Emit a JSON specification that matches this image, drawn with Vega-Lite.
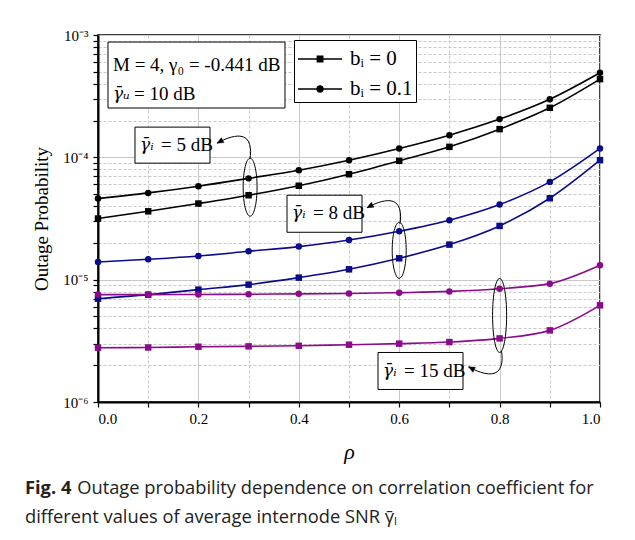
{
  "$schema": "https://vega.github.io/schema/vega-lite/v6.json",
  "width": 502,
  "height": 367,
  "autosize": {"type": "none"},
  "padding": {"left": 98, "top": 35, "right": 35, "bottom": 138},
  "background": "white",
  "config": {
    "font": "Liberation Serif",
    "view": {"stroke": "black", "strokeWidth": 1.5},
    "axis": {
      "domainColor": "black",
      "domainWidth": 2,
      "tickColor": "black",
      "tickWidth": 1.2,
      "tickSize": 5,
      "labelColor": "black",
      "labelFont": "Liberation Serif",
      "labelFontSize": 15,
      "titleFont": "Liberation Serif",
      "titleColor": "black",
      "titleFontWeight": "normal",
      "gridColor": "#c8c8c8",
      "gridWidth": 1
    }
  },
  "title": {
    "text": "Fig. 4",
    "subtitle": [
      "\u200b\u00a0\u00a0\u00a0\u00a0\u00a0\u00a0\u00a0\u00a0\u00a0\u00a0\u00a0Outage probability dependence on correlation coefficient for",
      "different values of average internode SNR γ̄ₗ"
    ],
    "orient": "bottom",
    "anchor": "start",
    "frame": "group",
    "dx": -73,
    "offset": 18,
    "font": "Open Sans",
    "fontSize": 18.3,
    "fontWeight": "bold",
    "color": "#222222",
    "subtitleFont": "Open Sans",
    "subtitleFontSize": 18.3,
    "subtitleColor": "#222222",
    "subtitlePadding": -18.3,
    "subtitleLineHeight": 29
  },
  "datasets": {
    "main": [
      {"rho": 0.0, "p": 4.60e-5, "snr": "5", "bi": "0.1"},
      {"rho": 0.1, "p": 5.12e-5, "snr": "5", "bi": "0.1"},
      {"rho": 0.2, "p": 5.81e-5, "snr": "5", "bi": "0.1"},
      {"rho": 0.3, "p": 6.73e-5, "snr": "5", "bi": "0.1"},
      {"rho": 0.4, "p": 7.85e-5, "snr": "5", "bi": "0.1"},
      {"rho": 0.5, "p": 9.48e-5, "snr": "5", "bi": "0.1"},
      {"rho": 0.6, "p": 1.182e-4, "snr": "5", "bi": "0.1"},
      {"rho": 0.7, "p": 1.518e-4, "snr": "5", "bi": "0.1"},
      {"rho": 0.8, "p": 2.053e-4, "snr": "5", "bi": "0.1"},
      {"rho": 0.9, "p": 2.98e-4, "snr": "5", "bi": "0.1"},
      {"rho": 1.0, "p": 4.91e-4, "snr": "5", "bi": "0.1"},
      {"rho": 0.0, "p": 3.16e-5, "snr": "5", "bi": "0"},
      {"rho": 0.1, "p": 3.62e-5, "snr": "5", "bi": "0"},
      {"rho": 0.2, "p": 4.19e-5, "snr": "5", "bi": "0"},
      {"rho": 0.3, "p": 4.90e-5, "snr": "5", "bi": "0"},
      {"rho": 0.4, "p": 5.86e-5, "snr": "5", "bi": "0"},
      {"rho": 0.5, "p": 7.28e-5, "snr": "5", "bi": "0"},
      {"rho": 0.6, "p": 9.36e-5, "snr": "5", "bi": "0"},
      {"rho": 0.7, "p": 1.218e-4, "snr": "5", "bi": "0"},
      {"rho": 0.8, "p": 1.70e-4, "snr": "5", "bi": "0"},
      {"rho": 0.9, "p": 2.54e-4, "snr": "5", "bi": "0"},
      {"rho": 1.0, "p": 4.36e-4, "snr": "5", "bi": "0"},
      {"rho": 0.0, "p": 1.394e-5, "snr": "8", "bi": "0.1"},
      {"rho": 0.1, "p": 1.467e-5, "snr": "8", "bi": "0.1"},
      {"rho": 0.2, "p": 1.561e-5, "snr": "8", "bi": "0.1"},
      {"rho": 0.3, "p": 1.706e-5, "snr": "8", "bi": "0.1"},
      {"rho": 0.4, "p": 1.864e-5, "snr": "8", "bi": "0.1"},
      {"rho": 0.5, "p": 2.107e-5, "snr": "8", "bi": "0.1"},
      {"rho": 0.6, "p": 2.487e-5, "snr": "8", "bi": "0.1"},
      {"rho": 0.7, "p": 3.06e-5, "snr": "8", "bi": "0.1"},
      {"rho": 0.8, "p": 4.11e-5, "snr": "8", "bi": "0.1"},
      {"rho": 0.9, "p": 6.30e-5, "snr": "8", "bi": "0.1"},
      {"rho": 1.0, "p": 1.182e-4, "snr": "8", "bi": "0.1"},
      {"rho": 0.0, "p": 6.99e-6, "snr": "8", "bi": "0"},
      {"rho": 0.1, "p": 7.54e-6, "snr": "8", "bi": "0"},
      {"rho": 0.2, "p": 8.29e-6, "snr": "8", "bi": "0"},
      {"rho": 0.3, "p": 9.11e-6, "snr": "8", "bi": "0"},
      {"rho": 0.4, "p": 1.039e-5, "snr": "8", "bi": "0"},
      {"rho": 0.5, "p": 1.215e-5, "snr": "8", "bi": "0"},
      {"rho": 0.6, "p": 1.495e-5, "snr": "8", "bi": "0"},
      {"rho": 0.7, "p": 1.935e-5, "snr": "8", "bi": "0"},
      {"rho": 0.8, "p": 2.75e-5, "snr": "8", "bi": "0"},
      {"rho": 0.9, "p": 4.63e-5, "snr": "8", "bi": "0"},
      {"rho": 1.0, "p": 9.48e-5, "snr": "8", "bi": "0"},
      {"rho": 0.0, "p": 7.55e-6, "snr": "15", "bi": "0.1"},
      {"rho": 0.1, "p": 7.55e-6, "snr": "15", "bi": "0.1"},
      {"rho": 0.2, "p": 7.57e-6, "snr": "15", "bi": "0.1"},
      {"rho": 0.3, "p": 7.60e-6, "snr": "15", "bi": "0.1"},
      {"rho": 0.4, "p": 7.66e-6, "snr": "15", "bi": "0.1"},
      {"rho": 0.5, "p": 7.70e-6, "snr": "15", "bi": "0.1"},
      {"rho": 0.6, "p": 7.83e-6, "snr": "15", "bi": "0.1"},
      {"rho": 0.7, "p": 8.02e-6, "snr": "15", "bi": "0.1"},
      {"rho": 0.8, "p": 8.44e-6, "snr": "15", "bi": "0.1"},
      {"rho": 0.9, "p": 9.28e-6, "snr": "15", "bi": "0.1"},
      {"rho": 1.0, "p": 1.311e-5, "snr": "15", "bi": "0.1"},
      {"rho": 0.0, "p": 2.78e-6, "snr": "15", "bi": "0"},
      {"rho": 0.1, "p": 2.79e-6, "snr": "15", "bi": "0"},
      {"rho": 0.2, "p": 2.83e-6, "snr": "15", "bi": "0"},
      {"rho": 0.3, "p": 2.85e-6, "snr": "15", "bi": "0"},
      {"rho": 0.4, "p": 2.88e-6, "snr": "15", "bi": "0"},
      {"rho": 0.5, "p": 2.94e-6, "snr": "15", "bi": "0"},
      {"rho": 0.6, "p": 3.00e-6, "snr": "15", "bi": "0"},
      {"rho": 0.7, "p": 3.09e-6, "snr": "15", "bi": "0"},
      {"rho": 0.8, "p": 3.31e-6, "snr": "15", "bi": "0"},
      {"rho": 0.9, "p": 3.85e-6, "snr": "15", "bi": "0"},
      {"rho": 1.0, "p": 6.17e-6, "snr": "15", "bi": "0"}
    ],
    "boxes": [
      {"x1": 0.0199, "x2": 0.3725, "y1": 8.76e-4, "y2": 2.53e-4},
      {"x1": 0.0737, "x2": 0.2231, "y1": 1.766e-4, "y2": 8.96e-5},
      {"x1": 0.3765, "x2": 0.5259, "y1": 4.90e-5, "y2": 2.44e-5},
      {"x1": 0.5578, "x2": 0.7271, "y1": 2.54e-6, "y2": 1.266e-6}
    ],
    "labels": [
      {"tx": 0.0299, "ty": 5.68e-4, "label": "M = 4, γ₀ = -0.441 dB"}
    ],
    "glabels": [
      {"tx": 0.0299, "ty": 3.29e-4, "sym": "γ̄ᵤ", "rest": "= 10 dB"},
      {"tx": 0.0837, "ty": 1.258e-4, "sym": "γ̄ᵢ", "rest": "= 5 dB"},
      {"tx": 0.3865, "ty": 3.49e-5, "sym": "γ̄ᵢ", "rest": "= 8 dB"},
      {"tx": 0.5677, "ty": 1.778e-6, "sym": "γ̄ᵢ", "rest": "= 15 dB"}
    ],
    "arrUp": [
      {"ax": 0.2719, "ay": 1.2e-4},
      {"ax": 0.5707, "ay": 3.56e-5}
    ],
    "arrDown": [
      {"ax": 0.7729, "ay": 2.11e-6}
    ]
  },
  "layer": [
    {
      "data": {"name": "main"},
      "mark": {"type": "line", "strokeWidth": 1.6, "interpolate": "monotone"},
      "encoding": {
        "x": {
          "field": "rho", "type": "quantitative", "title": "ρ",
          "scale": {"domain": [0, 1], "nice": false, "zero": false},
          "axis": {
            "values": [0, 0.1, 0.2, 0.3, 0.4, 0.5, 0.6, 0.7, 0.8, 0.9, 1.0],
            "labelExpr": "abs(datum.value*5 - round(datum.value*5)) < 0.001 ? format(datum.value, '.1f') : ''",
            "labelPadding": 4,
            "titleFontSize": 22,
            "titleFontStyle": "italic",
            "titlePadding": 15,
            "gridDash": {"condition": {"test": "abs(datum.value*5 - round(datum.value*5)) < 0.001", "value": []}, "value": [3, 2]}
          }
        },
        "y": {
          "field": "p", "type": "quantitative", "title": "Outage Probability",
          "scale": {"type": "log", "domain": [1e-6, 1e-3], "nice": false},
          "axis": {
            "values": [1e-6, 2e-6, 3e-6, 4e-6, 5e-6, 6e-6, 7e-6, 8e-6, 9e-6, 1e-5, 2e-5, 3e-5, 4e-5, 5e-5, 6e-5, 7e-5, 8e-5, 9e-5, 1e-4, 2e-4, 3e-4, 4e-4, 5e-4, 6e-4, 7e-4, 8e-4, 9e-4, 1e-3],
            "labelExpr": "abs(log(datum.value)/LN10 - round(log(datum.value)/LN10)) < 0.001 ? '10⁻' + ['⁰','¹','²','³','⁴','⁵','⁶'][-round(log(datum.value)/LN10)] : ''",
            "labelPadding": 5,
            "titleFontSize": 19,
            "titlePadding": 11,
            "gridDash": {"condition": {"test": "abs(log(datum.value)/LN10 - round(log(datum.value)/LN10)) < 0.001", "value": []}, "value": [3, 2]}
          }
        },
        "color": {
          "field": "snr", "type": "nominal",
          "scale": {"domain": ["5", "8", "15"], "range": ["#000000", "#0a0a8c", "#8c0a8c"]},
          "legend": null
        },
        "detail": {"field": "bi", "type": "nominal"}
      }
    },
    {
      "data": {"name": "main"},
      "mark": {"type": "point", "filled": true, "opacity": 1, "size": 42},
      "encoding": {
        "x": {"field": "rho", "type": "quantitative", "title": "ρ"},
        "y": {"field": "p", "type": "quantitative", "title": "Outage Probability"},
        "color": {"field": "snr", "type": "nominal", "legend": null},
        "shape": {
          "field": "bi", "type": "nominal",
          "scale": {"domain": ["0", "0.1"], "range": ["square", "circle"]},
          "legend": null
        }
      }
    },
    {
      "data": {"name": "main"},
      "mark": {"type": "point", "filled": true, "opacity": 0, "color": "black"},
      "encoding": {
        "x": {"field": "rho", "type": "quantitative", "title": "ρ"},
        "y": {"field": "p", "type": "quantitative", "title": "Outage Probability"},
        "shape": {
          "field": "bi", "type": "nominal",
          "scale": {
            "domain": ["0", "0.1"],
            "range": [
              "M -1 -0.05 L 1.94 -0.05 L 1.94 0.05 L -1 0.05 Z M 0.24 -0.23 L 0.7 -0.23 L 0.7 0.23 L 0.24 0.23 Z",
              "M -1 -0.05 L 1.94 -0.05 L 1.94 0.05 L -1 0.05 Z M 0.72 0 A 0.25 0.25 0 1 1 0.22 0 A 0.25 0.25 0 1 1 0.72 0 Z"
            ]
          },
          "legend": {
            "orient": "none",
            "legendX": 196,
            "legendY": 5,
            "title": null,
            "strokeColor": "black",
            "fillColor": "white",
            "padding": 3,
            "labelFont": "Liberation Serif",
            "labelFontSize": 21,
            "labelColor": "black",
            "labelOffset": 21,
            "labelExpr": "datum.label == '0' ? 'bᵢ\u00a0=\u00a00' : 'bᵢ\u00a0=\u00a00.1'",
            "symbolSize": 900,
            "rowPadding": 4,
            "encode": {
              "symbols": {
                "fill": {"value": "black"},
                "opacity": {"value": 1}
              }
            }
          }
        }
      }
    },
    {
      "data": {"name": "boxes"},
      "mark": {"type": "rect", "fill": "white", "stroke": "black", "strokeWidth": 1},
      "encoding": {
        "x": {"field": "x1", "type": "quantitative", "title": "ρ"},
        "x2": {"field": "x2"},
        "y": {"field": "y1", "type": "quantitative", "title": "Outage Probability"},
        "y2": {"field": "y2"}
      }
    },
    {
      "data": {"name": "labels"},
      "mark": {"type": "text", "align": "left", "baseline": "middle", "fontSize": 19, "font": "Liberation Serif", "color": "black"},
      "encoding": {
        "x": {"field": "tx", "type": "quantitative", "title": "ρ"},
        "y": {"field": "ty", "type": "quantitative", "title": "Outage Probability"},
        "text": {"field": "label"}
      }
    },
    {
      "data": {"name": "glabels"},
      "mark": {"type": "text", "align": "left", "baseline": "middle", "fontSize": 17, "font": "DejaVu Serif", "fontStyle": "italic", "color": "black"},
      "encoding": {
        "x": {"field": "tx", "type": "quantitative", "title": "ρ"},
        "y": {"field": "ty", "type": "quantitative", "title": "Outage Probability"},
        "text": {"field": "sym"}
      }
    },
    {
      "data": {"name": "glabels"},
      "mark": {"type": "text", "align": "left", "baseline": "middle", "fontSize": 19, "font": "Liberation Serif", "color": "black", "dx": 21},
      "encoding": {
        "x": {"field": "tx", "type": "quantitative", "title": "ρ"},
        "y": {"field": "ty", "type": "quantitative", "title": "Outage Probability"},
        "text": {"field": "rest"}
      }
    },
    {
      "data": {"values": [{"ex": 0.303, "ey": 5.7e-5}]},
      "mark": {"type": "point", "shape": "M 0 -1 A 0.24 1 0 1 1 0 1 A 0.24 1 0 1 1 0 -1 Z", "size": 3364, "filled": false, "stroke": "black", "strokeWidth": 1, "opacity": 1},
      "encoding": {
        "x": {"field": "ex", "type": "quantitative", "title": "ρ"},
        "y": {"field": "ey", "type": "quantitative", "title": "Outage Probability"}
      }
    },
    {
      "data": {"values": [{"ex": 0.6, "ey": 1.738e-5}]},
      "mark": {"type": "point", "shape": "M 0 -1 A 0.25 1 0 1 1 0 1 A 0.25 1 0 1 1 0 -1 Z", "size": 3136, "filled": false, "stroke": "black", "strokeWidth": 1, "opacity": 1},
      "encoding": {
        "x": {"field": "ex", "type": "quantitative", "title": "ρ"},
        "y": {"field": "ey", "type": "quantitative", "title": "Outage Probability"}
      }
    },
    {
      "data": {"values": [{"ex": 0.8, "ey": 5.10e-6}]},
      "mark": {"type": "point", "shape": "M 0 -1 A 0.19 1 0 1 1 0 1 A 0.19 1 0 1 1 0 -1 Z", "size": 5476, "filled": false, "stroke": "black", "strokeWidth": 1, "opacity": 1},
      "encoding": {
        "x": {"field": "ex", "type": "quantitative", "title": "ρ"},
        "y": {"field": "ey", "type": "quantitative", "title": "Outage Probability"}
      }
    },
    {
      "data": {"name": "arrUp"},
      "mark": {"type": "point", "shape": "M 0.86 0.64 C 0.95 0.1 0.9 -0.6 0.3 -0.64 C -0.1 -0.66 -0.5 -0.5 -0.97 -0.25", "size": 1296, "filled": false, "stroke": "black", "strokeWidth": 1, "opacity": 1},
      "encoding": {
        "x": {"field": "ax", "type": "quantitative", "title": "ρ"},
        "y": {"field": "ay", "type": "quantitative", "title": "Outage Probability"}
      }
    },
    {
      "data": {"name": "arrUp"},
      "mark": {"type": "point", "shape": "M -0.97 -0.25 L -0.59 -0.28 L -0.73 -0.55 Z", "size": 1296, "filled": true, "fill": "black", "stroke": "black", "strokeWidth": 0.5, "opacity": 1},
      "encoding": {
        "x": {"field": "ax", "type": "quantitative", "title": "ρ"},
        "y": {"field": "ay", "type": "quantitative", "title": "Outage Probability"}
      }
    },
    {
      "data": {"name": "arrDown"},
      "mark": {"type": "point", "shape": "M 0.86 -0.64 C 0.95 -0.1 0.9 0.6 0.3 0.64 C -0.1 0.66 -0.5 0.5 -0.97 0.25", "size": 1296, "filled": false, "stroke": "black", "strokeWidth": 1, "opacity": 1},
      "encoding": {
        "x": {"field": "ax", "type": "quantitative", "title": "ρ"},
        "y": {"field": "ay", "type": "quantitative", "title": "Outage Probability"}
      }
    },
    {
      "data": {"name": "arrDown"},
      "mark": {"type": "point", "shape": "M -0.97 0.25 L -0.59 0.28 L -0.73 0.55 Z", "size": 1296, "filled": true, "fill": "black", "stroke": "black", "strokeWidth": 0.5, "opacity": 1},
      "encoding": {
        "x": {"field": "ax", "type": "quantitative", "title": "ρ"},
        "y": {"field": "ay", "type": "quantitative", "title": "Outage Probability"}
      }
    }
  ],
  "resolve": {"scale": {"shape": "independent"}}
}
